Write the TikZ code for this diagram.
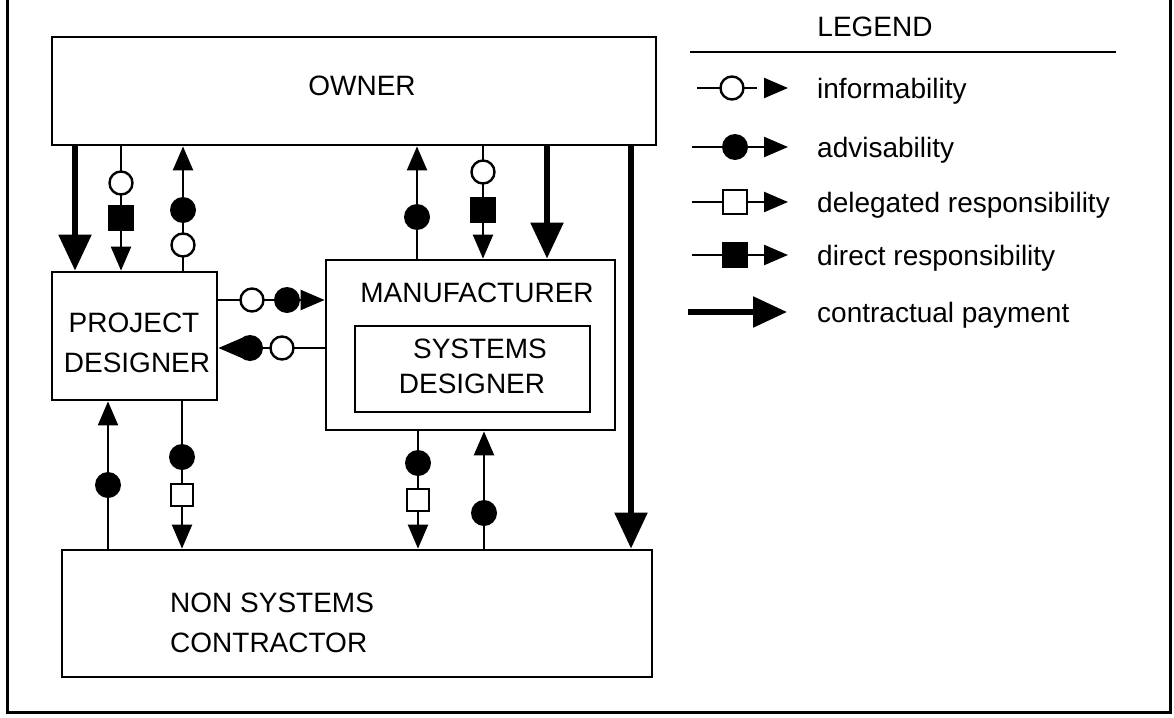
\documentclass[tikz,border=0pt]{standalone}
\usepackage{fontspec}
\setmainfont{Liberation Sans}
\usetikzlibrary{arrows.meta}
\begin{document}
\begin{tikzpicture}[x=1pt,y=-1pt,
  box/.style={draw,line width=2.8pt,inner sep=0pt},
  lbl/.style={inner sep=0pt,font=\fontsize{28}{34}\selectfont},
  conn/.style={line width=2.4pt},
  pay/.style={line width=5.5pt},
  smalltip/.style={-{Triangle[length=24pt,width=20pt]}},
  bigtip/.style={-{Triangle[length=36pt,width=32pt]}},
  ocirc/.style={circle,draw,line width=2.4pt,fill=white,minimum size=23pt,inner sep=0pt},
  fcirc/.style={circle,fill=black,minimum size=26pt,inner sep=0pt},
  osq/.style={rectangle,draw,line width=2.4pt,fill=white,minimum size=22pt,inner sep=0pt},
  fsq/.style={rectangle,fill=black,minimum size=26pt,inner sep=0pt},
]
\useasboundingbox (0,0) rectangle (1174,717);
\fill[white] (0,0) rectangle (1174,717);
% outer frame
\draw[line width=3pt] (7,0) -- (7,712) -- (1170,712) -- (1170,0);

% boxes
\node[box,minimum width=604pt,minimum height=108pt] (owner) at (354,91) {};
\node[box,minimum width=165pt,minimum height=128pt] (pd) at (134.5,336) {};
\node[box,minimum width=289pt,minimum height=170pt] (mfr) at (470.5,345) {};
\node[box,minimum width=235pt,minimum height=86pt] (sd) at (472.5,369) {};
\node[box,minimum width=590pt,minimum height=127pt] (nsc) at (357,613.5) {};

% texts
\node[lbl,anchor=base] (towner) at (362,95) {OWNER};
\node[lbl,anchor=base] (tproj) at (134,332) {PROJECT};
\node[lbl,anchor=base] (tpd) at (137,372) {DESIGNER};
\node[lbl,anchor=base] (tmfr) at (477,302) {MANUFACTURER};
\node[lbl,anchor=base] (tsys) at (480,358) {SYSTEMS};
\node[lbl,anchor=base] (tsd) at (472,393) {DESIGNER};
\node[lbl,anchor=base west] (tnon) at (170,612) {NON SYSTEMS};
\node[lbl,anchor=base west] (tcon) at (170,652) {CONTRACTOR};

% column coordinates
\coordinate (xa) at (75,0);
\coordinate (xb) at (121,0);
\coordinate (xc) at (183,0);
\coordinate (xd) at (417,0);
\coordinate (xe) at (483,0);
\coordinate (xf) at (547,0);
\coordinate (xg) at (631,0);
\coordinate (xh) at (108,0);
\coordinate (xi) at (182,0);
\coordinate (xj) at (418,0);
\coordinate (xk) at (484,0);
\coordinate (ya) at (0,300);
\coordinate (yb) at (0,348);

% owner <-> project designer
\draw[pay,bigtip] (owner.south -| xa) -- (pd.north -| xa);
\draw[conn,smalltip] (owner.south -| xb) -- (pd.north -| xb);
\node[ocirc] (m1) at (121,183) {};
\node[fsq] (m2) at (121,218) {};
\draw[conn,smalltip] (pd.north -| xc) -- (owner.south -| xc);
\node[ocirc] (m3) at (183,245) {};
\node[fcirc] (m4) at (183,210) {};

% owner <-> manufacturer
\draw[conn,smalltip] (mfr.north -| xd) -- (owner.south -| xd);
\node[fcirc] (m5) at (417,217) {};
\draw[conn,smalltip] (owner.south -| xe) -- (mfr.north -| xe);
\node[ocirc] (m6) at (483,172) {};
\node[fsq] (m7) at (483,210) {};
\draw[pay,bigtip] (owner.south -| xf) -- (mfr.north -| xf);

% owner -> non systems contractor
\draw[pay,bigtip] (owner.south -| xg) -- (nsc.north -| xg);

% project designer <-> manufacturer
\draw[conn,smalltip] (pd.east |- ya) -- (mfr.west |- ya);
\node[ocirc] (m8) at (252,300) {};
\node[fcirc] (m9) at (287,300) {};
\draw[conn,smalltip] (mfr.west |- yb) -- (pd.east |- yb);
\node[ocirc] (m10) at (282,348) {};
\node[fcirc] (m11) at (250,348) {};

% project designer <-> contractor
\draw[conn,smalltip] (nsc.north -| xh) -- (pd.south -| xh);
\node[fcirc] (m12) at (108,485) {};
\draw[conn,smalltip] (pd.south -| xi) -- (nsc.north -| xi);
\node[fcirc] (m13) at (182,457) {};
\node[osq] (m14) at (182,495) {};

% manufacturer <-> contractor
\draw[conn,smalltip] (mfr.south -| xj) -- (nsc.north -| xj);
\node[fcirc] (m15) at (418,463) {};
\node[osq] (m16) at (418,500) {};
\draw[conn,smalltip] (nsc.north -| xk) -- (mfr.south -| xk);
\node[fcirc] (m17) at (484,513) {};

% legend
\node[lbl,anchor=base] (tleg) at (875,37) {LEGEND};
\draw[line width=2.5pt] (690,52) -- (1116,52);

\coordinate (l1a) at (697,88);
\coordinate (l1m) at (757,88);
\coordinate (l1c) at (764,88);
\coordinate (l1b) at (788,88);
\draw[conn] (l1a) -- (l1m);
\draw[conn,smalltip] (l1c) -- (l1b);
\node[ocirc] (lm1) at (732,88) {};
\node[lbl,anchor=base west] (lt1) at (817,98) {informability};

\coordinate (l2a) at (692,147);
\coordinate (l2b) at (788,147);
\draw[conn,smalltip] (l2a) -- (l2b);
\node[fcirc] (lm2) at (735,147) {};
\node[lbl,anchor=base west] (lt2) at (817,157) {advisability};

\coordinate (l3a) at (692,202);
\coordinate (l3b) at (788,202);
\draw[conn,smalltip] (l3a) -- (l3b);
\node[osq,minimum size=24pt] (lm3) at (735,202) {};
\node[lbl,anchor=base west] (lt3) at (817,212) {delegated responsibility};

\coordinate (l4a) at (692,255);
\coordinate (l4b) at (788,255);
\draw[conn,smalltip] (l4a) -- (l4b);
\node[fsq] (lm4) at (735,255) {};
\node[lbl,anchor=base west] (lt4) at (817,265) {direct responsibility};

\coordinate (l5a) at (688,312);
\coordinate (l5b) at (787,312);
\draw[pay,-{Triangle[length=34pt,width=30pt]}] (l5a) -- (l5b);
\node[lbl,anchor=base west] (lt5) at (817,322) {contractual payment};
\end{tikzpicture}
\end{document}
